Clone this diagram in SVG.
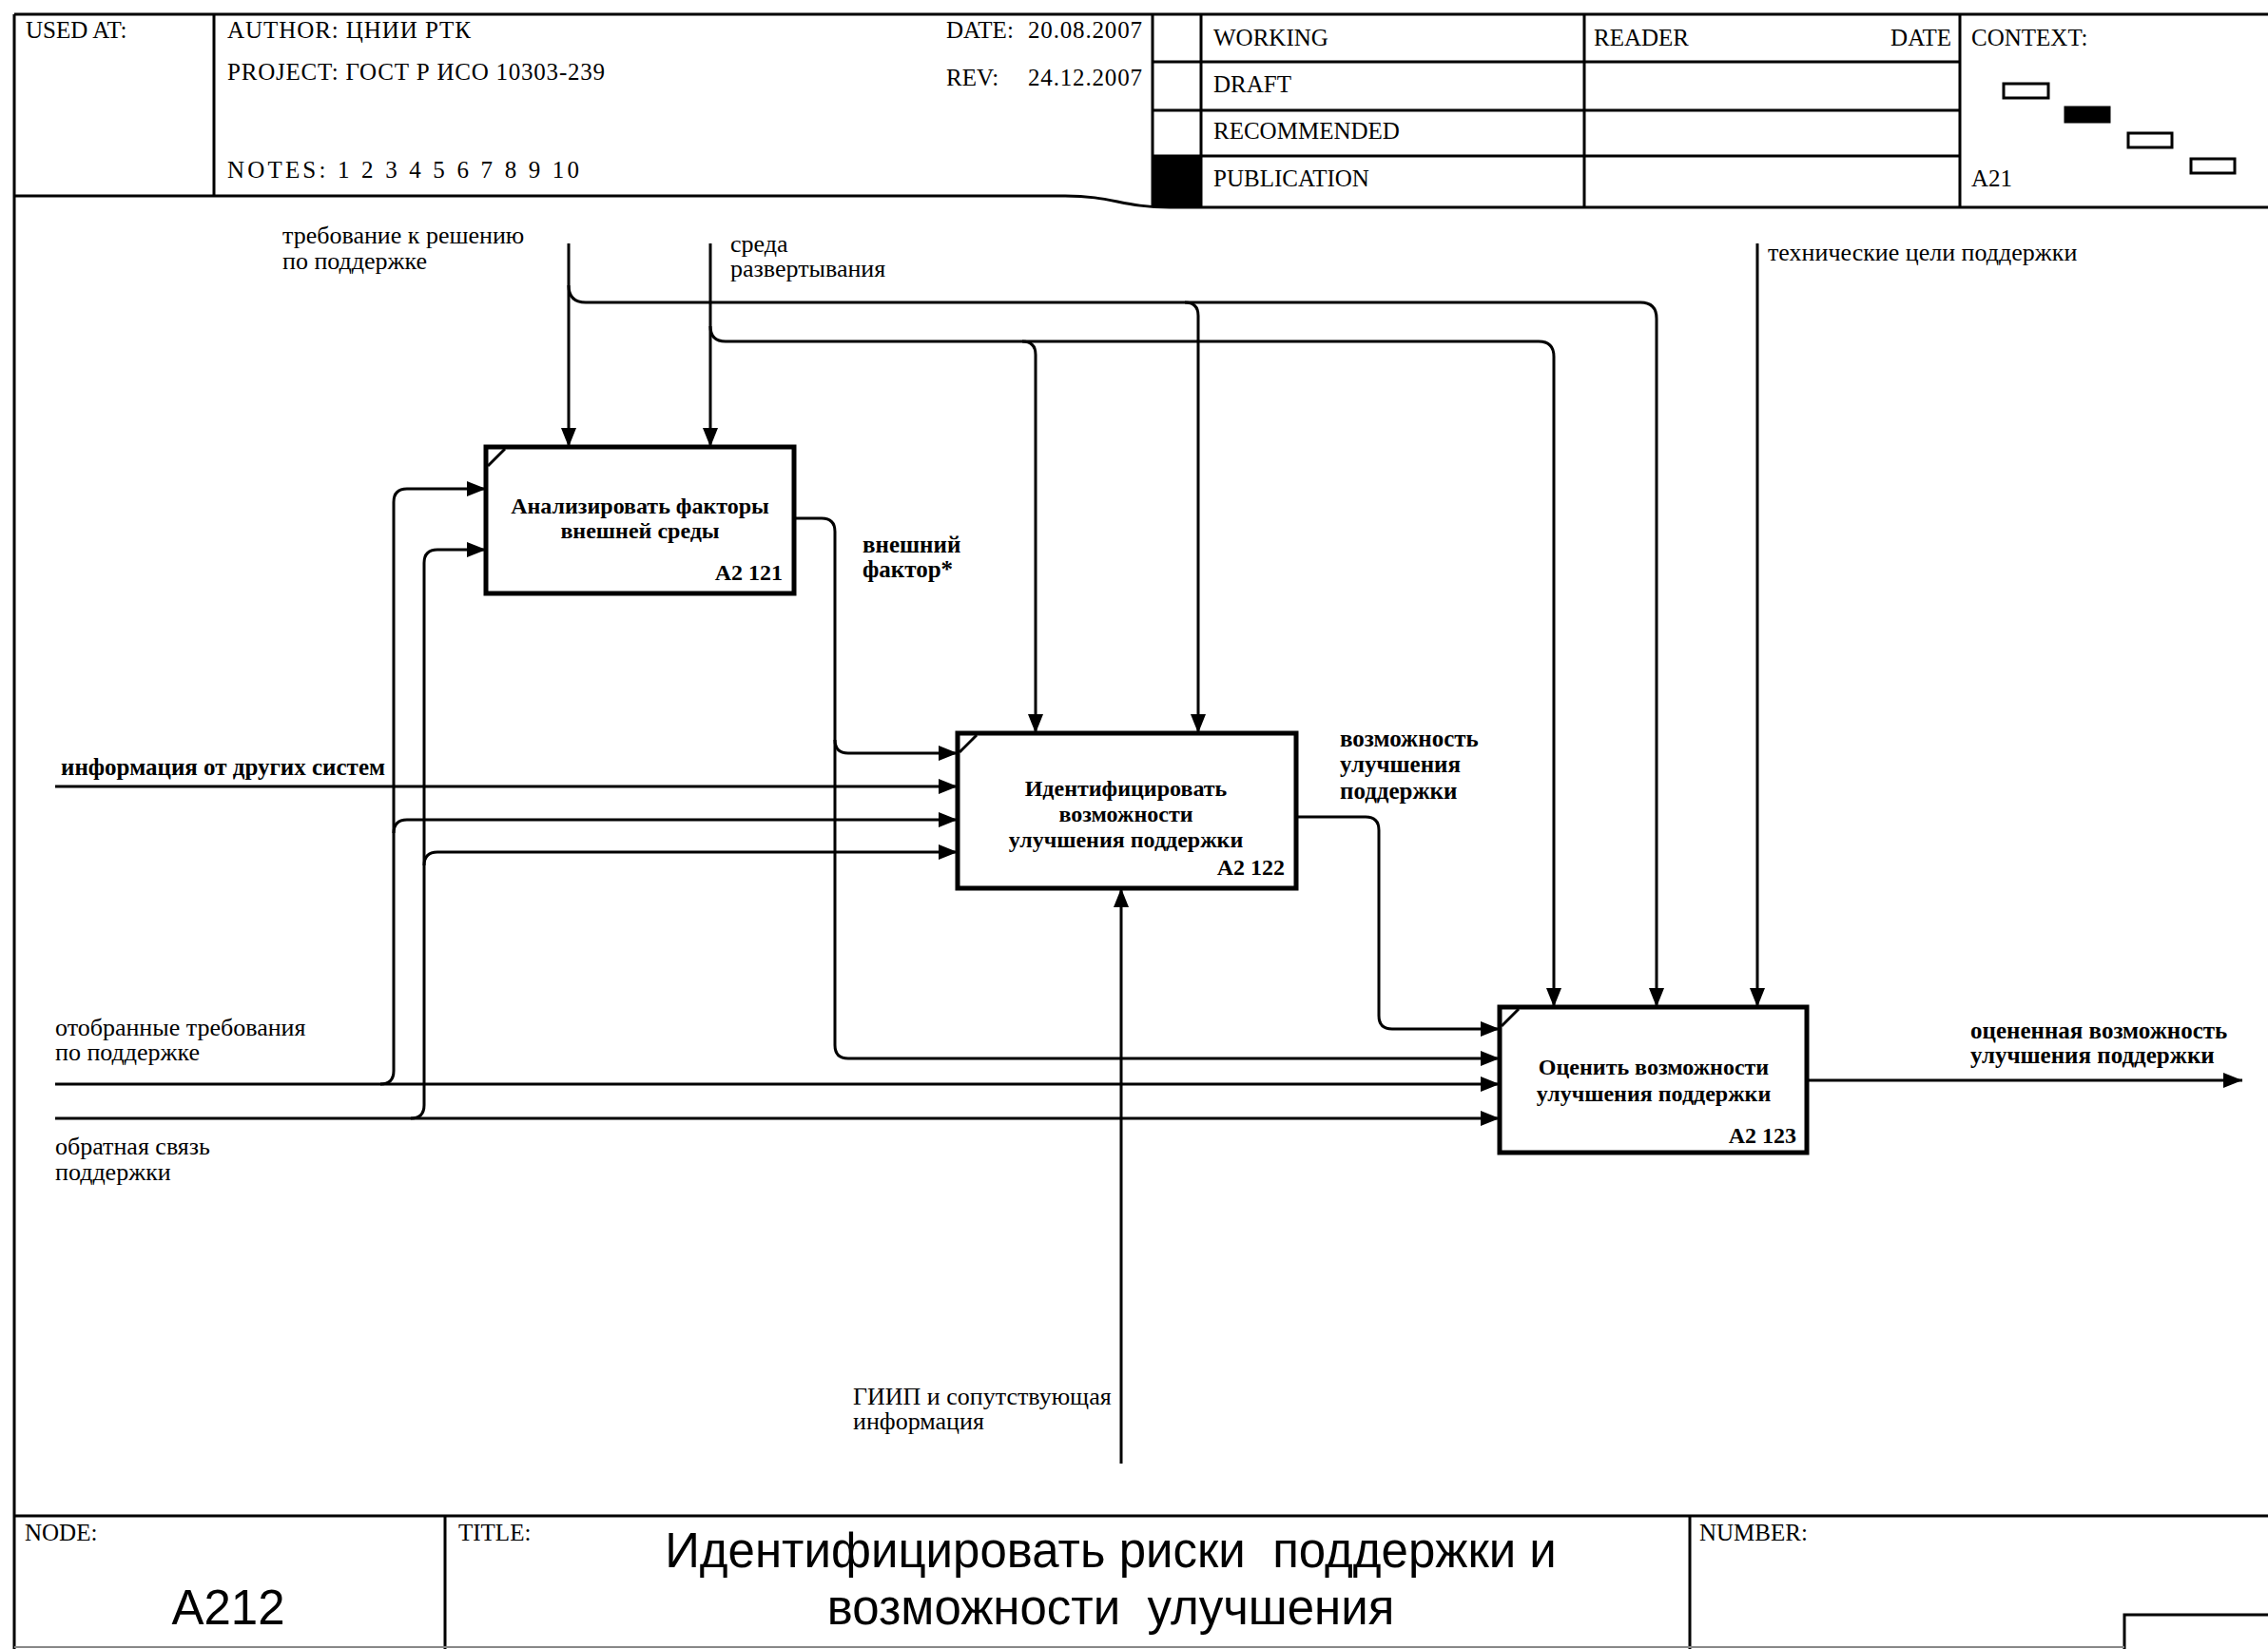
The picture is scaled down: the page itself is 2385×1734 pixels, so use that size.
<svg xmlns="http://www.w3.org/2000/svg" width="2385" height="1734" viewBox="0 0 2385 1734">
<defs>
<marker id="arr" viewBox="0 0 20 16" refX="20" refY="8" markerWidth="21" markerHeight="16" markerUnits="userSpaceOnUse" orient="auto"><path d="M0,0 L20,8 L0,16 z" fill="#000"/></marker>
</defs>
<style>
.fr{stroke:#000;stroke-width:3;fill:none}
.box{fill:#fff;stroke:#000;stroke-width:5}
.tick{stroke:#000;stroke-width:3;fill:none}
.c{fill:none;stroke:#000;stroke-width:3}
.ca{fill:none;stroke:#000;stroke-width:3;marker-end:url(#arr)}
.h{font-family:"Liberation Serif",serif;font-size:25px;fill:#000}
.lb{font-family:"Liberation Serif",serif;font-size:26px;fill:#000}
.lbb{font-family:"Liberation Serif",serif;font-size:25px;font-weight:bold;fill:#000}
.bt{font-family:"Liberation Serif",serif;font-size:24px;font-weight:bold;text-anchor:middle;fill:#000}
.id{font-family:"Liberation Serif",serif;font-size:24px;font-weight:bold;text-anchor:end;fill:#000}
.tt{font-family:"Liberation Sans",Arial,sans-serif;font-size:51px;text-anchor:middle;fill:#000;white-space:pre}
</style>
<g id="frame">
<path class="fr" d="M15,15 H2385 M15,15 V1734 M15,206 H1120 C1170,206 1180,218 1230,218 H2385"/>
<path class="fr" d="M225,15 V206 M1212,15 V218 M1263,15 V218 M1666,15 V218 M2061,15 V218"/>
<path class="fr" d="M1212,65 H2061 M1212,116 H2061 M1212,164 H2061"/>
<rect x="1212" y="164" width="51" height="54" fill="#000"/>
<rect x="2107" y="88" width="47" height="15" fill="#fff" stroke="#000" stroke-width="3"/>
<rect x="2172" y="113" width="46" height="15" fill="#000" stroke="#000" stroke-width="3"/>
<rect x="2238" y="140" width="46" height="15" fill="#fff" stroke="#000" stroke-width="3"/>
<rect x="2304" y="167" width="46" height="15" fill="#fff" stroke="#000" stroke-width="3"/>
<text class="h" x="27" y="40">USED AT:</text>
<text class="h" x="239" y="40" textLength="256" lengthAdjust="spacing">AUTHOR:  ЦНИИ РТК</text>
<text class="h" x="239" y="84" textLength="397" lengthAdjust="spacing">PROJECT:  ГОСТ Р ИСО 10303-239</text>
<text class="h" x="239" y="187" textLength="370" lengthAdjust="spacing">NOTES: 1 2 3 4 5 6 7 8 9 10</text>
<text class="h" x="995" y="40">DATE:</text>
<text class="h" x="1081" y="40" textLength="120" lengthAdjust="spacing">20.08.2007</text>
<text class="h" x="995" y="90">REV:</text>
<text class="h" x="1081" y="90" textLength="120" lengthAdjust="spacing">24.12.2007</text>
<text class="h" x="1276" y="48">WORKING</text>
<text class="h" x="1276" y="97">DRAFT</text>
<text class="h" x="1276" y="146">RECOMMENDED</text>
<text class="h" x="1276" y="196">PUBLICATION</text>
<text class="h" x="1676" y="48">READER</text>
<text class="h" x="2052" y="48" text-anchor="end">DATE</text>
<text class="h" x="2073" y="48">CONTEXT:</text>
<text class="h" x="2073" y="196">A21</text>
<path class="fr" d="M15,1594 H2385 M468,1594 V1734 M1777,1594 V1734 M2234,1734 V1698 H2385"/>
<path d="M15,1732 H2234" stroke="#888" stroke-width="2" fill="none"/>
<text class="h" x="26" y="1620">NODE:</text>
<text class="h" x="482" y="1620">TITLE:</text>
<text class="h" x="1787" y="1620">NUMBER:</text>
<text class="tt" x="240" y="1708" font-size="53">A212</text>
<text class="tt" x="1168" y="1648" xml:space="preserve">Идентифицировать риски  поддержки и</text>
<text class="tt" x="1168" y="1708" xml:space="preserve">возможности  улучшения</text>
</g>
<g id="connectors">
<path class="ca" d="M598,256 V470"/>
<path class="ca" d="M747,256 V470"/>
<path class="ca" d="M598,300 Q598,318 616,318 H1725 Q1742,318 1742,335 V1059"/>
<path class="ca" d="M1246,318 Q1260,318 1260,332 V771"/>
<path class="ca" d="M747,343 Q747,359 763,359 H1618 Q1634,359 1634,375 V1059"/>
<path class="ca" d="M1075,359 Q1089,359 1089,373 V771"/>
<path class="ca" d="M1848,256 V1059"/>
<path class="ca" d="M58,1140 H1577"/>
<path class="ca" d="M400,1140 Q414,1140 414,1126 V528 Q414,514 428,514 H511"/>
<path class="ca" d="M414,876 Q414,862 428,862 H1007"/>
<path class="ca" d="M58,1176 H1577"/>
<path class="ca" d="M432,1176 Q446,1176 446,1162 V592 Q446,578 460,578 H511"/>
<path class="ca" d="M446,910 Q446,896 460,896 H1007"/>
<path class="ca" d="M835,545 H864 Q878,545 878,559 V778 Q878,792 892,792 H1007"/>
<path class="ca" d="M878,778 V1099 Q878,1113 892,1113 H1577"/>
<path class="ca" d="M58,827 H1007"/>
<path class="ca" d="M1363,859 H1436 Q1450,859 1450,873 V1068 Q1450,1082 1464,1082 H1577"/>
<path class="ca" d="M1179,1539 V934"/>
<path class="ca" d="M1900,1136 H2358"/>
<text class="lb" x="297" y="256">требование к решению</text>
<text class="lb" x="297" y="283">по поддержке</text>
<text class="lb" x="768" y="265">среда</text>
<text class="lb" x="768" y="291">развертывания</text>
<text class="lb" x="1859" y="274">технические цели поддержки</text>
<text class="lbb" x="907" y="581">внешний</text>
<text class="lbb" x="907" y="607">фактор*</text>
<text class="lbb" x="64" y="815">информация от других систем</text>
<text class="lbb" x="1409" y="785">возможность</text>
<text class="lbb" x="1409" y="812">улучшения</text>
<text class="lbb" x="1409" y="840">поддержки</text>
<text class="lb" x="58" y="1089">отобранные требования</text>
<text class="lb" x="58" y="1115">по поддержке</text>
<text class="lb" x="58" y="1214">обратная связь</text>
<text class="lb" x="58" y="1241">поддержки</text>
<text class="lb" x="897" y="1477">ГИИП и сопутствующая</text>
<text class="lb" x="897" y="1503">информация</text>
<text class="lbb" x="2072" y="1092">оцененная возможность</text>
<text class="lbb" x="2072" y="1118">улучшения поддержки</text>
</g>
<g id="node-A2121">
<rect class="box" x="511" y="470" width="324" height="154"/>
<path class="tick" d="M513,490 L531,472"/>
<text class="bt" x="673" y="540">Анализировать факторы</text>
<text class="bt" x="673" y="566">внешней среды</text>
<text class="id" x="823" y="610">A2 121</text>
</g>
<g id="node-A2122">
<rect class="box" x="1007" y="771" width="356" height="163"/>
<path class="tick" d="M1009,791 L1027,773"/>
<text class="bt" x="1184" y="837">Идентифицировать</text>
<text class="bt" x="1184" y="864">возможности</text>
<text class="bt" x="1184" y="891">улучшения поддержки</text>
<text class="id" x="1351" y="920">A2 122</text>
</g>
<g id="node-A2123">
<rect class="box" x="1577" y="1059" width="323" height="153"/>
<path class="tick" d="M1579,1079 L1597,1061"/>
<text class="bt" x="1739" y="1130">Оценить возможности</text>
<text class="bt" x="1739" y="1158">улучшения поддержки</text>
<text class="id" x="1889" y="1202">A2 123</text>
</g>
</svg>
